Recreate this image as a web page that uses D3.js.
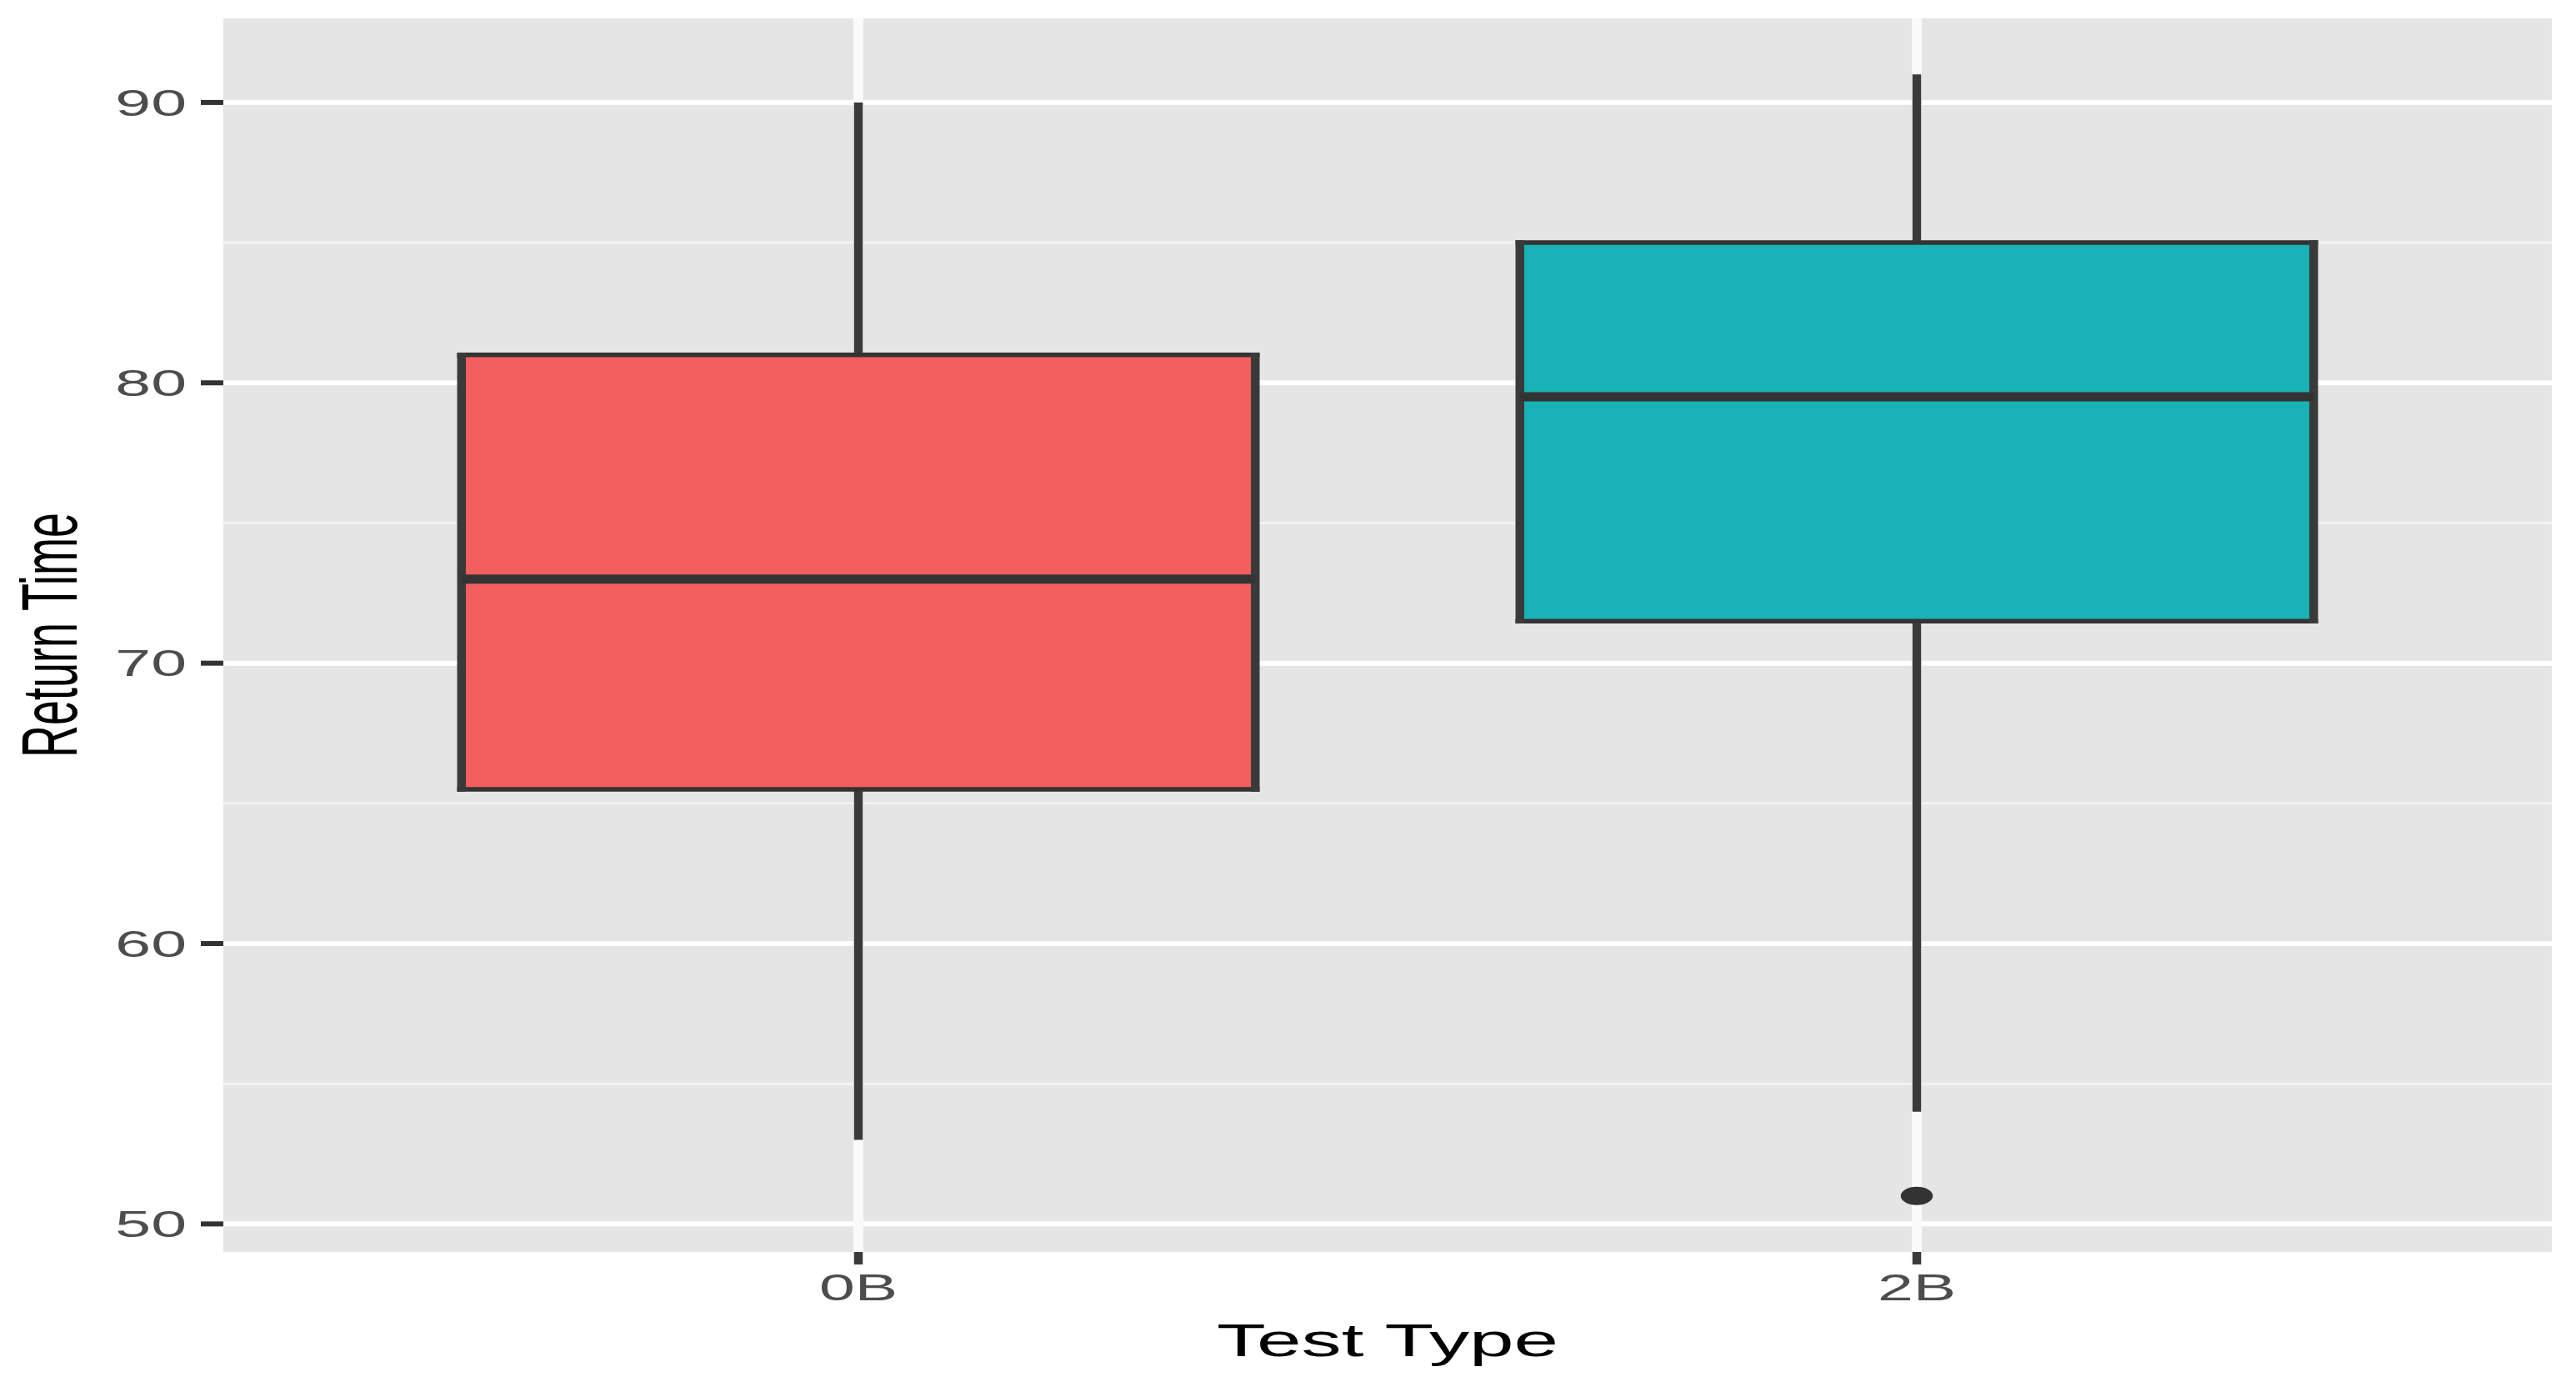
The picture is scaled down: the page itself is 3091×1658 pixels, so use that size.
<!DOCTYPE html>
<html>
<head>
<meta charset="utf-8">
<script src="https://cdn.jsdelivr.net/npm/d3@7"></script>
<style>
  html, body { margin: 0; padding: 0; background: #ffffff; }
  svg { display: block; }
</style>
</head>
<body>
<svg id="chart" width="3091" height="1658"></svg>
<script>
// ---- data ----
const categories = ["0B", "2B"];
const whiskerLow = [53, 54];
const q1 = [65.5, 71.5];
const medians = [73, 79.5];
const q3 = [81, 85];
const whiskerHigh = [90, 91];
const outlierCategory = ["2B"];
const outlierValue = [51];
const fills = ["#F25F5C", "#19B2B6"];
const yTicks = [50, 60, 70, 80, 90];
const yMinor = [55, 65, 75, 85];
const xTitle = "Test Type";
const yTitle = "Return Time";

// ---- layout ----
const W = 3091, H = 1658;
const panel = { left: 268, right: 3062, top: 22, bottom: 1502 };
const SX = 1.75;            // horizontal stretch of the original rendering
const hLine = 5.5;           // horizontal line width
const vLine = 10.5;          // vertical line width (stretched)
const ink = "#333333";
const vInk = "#3A3A3A";

const svg = d3.select("#chart");

const y = d3.scaleLinear().domain([49, 93]).range([panel.bottom, panel.top]);
const x = d3.scalePoint().domain(categories).range([panel.left, panel.right]).padding(0.6);
const step = x.step();
const boxW = step * 0.75;

// panel background
svg.append("rect")
  .attr("x", panel.left).attr("y", panel.top)
  .attr("width", panel.right - panel.left).attr("height", panel.bottom - panel.top)
  .attr("fill", "#E5E5E5");

// grid
const grid = svg.append("g");
grid.selectAll(".minor").data(yMinor).join("line")
  .attr("x1", panel.left).attr("x2", panel.right)
  .attr("y1", d => y(d)).attr("y2", d => y(d))
  .attr("stroke", "#F3F3F3").attr("stroke-width", 3);
grid.selectAll(".major").data(yTicks).join("line")
  .attr("x1", panel.left).attr("x2", panel.right)
  .attr("y1", d => y(d)).attr("y2", d => y(d))
  .attr("stroke", "#FFFFFF").attr("stroke-width", 6);
grid.selectAll(".vmajor").data(categories).join("line")
  .attr("x1", d => x(d)).attr("x2", d => x(d))
  .attr("y1", panel.top).attr("y2", panel.bottom)
  .attr("stroke", "#FAFAFA").attr("stroke-width", 12);

// boxes
const rows = categories.map((c, i) => ({
  c, lo: whiskerLow[i], q1: q1[i], med: medians[i], q3: q3[i], hi: whiskerHigh[i], fill: fills[i]
}));
const g = svg.append("g");
rows.forEach(r => {
  const cx = x(r.c);
  // whiskers
  g.append("line").attr("x1", cx).attr("x2", cx).attr("y1", y(r.hi)).attr("y2", y(r.q3))
    .attr("stroke", vInk).attr("stroke-width", vLine);
  g.append("line").attr("x1", cx).attr("x2", cx).attr("y1", y(r.q1)).attr("y2", y(r.lo))
    .attr("stroke", vInk).attr("stroke-width", vLine);
  // box fill
  const x0 = cx - boxW / 2, x1 = cx + boxW / 2;
  g.append("rect").attr("x", x0).attr("y", y(r.q3))
    .attr("width", boxW).attr("height", y(r.q1) - y(r.q3))
    .attr("fill", r.fill);
  // box borders
  [[x0, y(r.q3), x1, y(r.q3), hLine], [x0, y(r.q1), x1, y(r.q1), hLine]].forEach(s => {
    g.append("line").attr("x1", s[0] - vLine / 2).attr("y1", s[1]).attr("x2", s[2] + vLine / 2).attr("y2", s[3])
      .attr("stroke", ink).attr("stroke-width", s[4]);
  });
  [[x0], [x1]].forEach(s => {
    g.append("line").attr("x1", s[0]).attr("x2", s[0])
      .attr("y1", y(r.q3) - hLine / 2).attr("y2", y(r.q1) + hLine / 2)
      .attr("stroke", vInk).attr("stroke-width", vLine);
  });
  // median
  g.append("line").attr("x1", x0).attr("x2", x1).attr("y1", y(r.med)).attr("y2", y(r.med))
    .attr("stroke", ink).attr("stroke-width", hLine * 2);
});

// outliers
g.selectAll(".out").data(outlierValue).join("ellipse")
  .attr("cx", (d, i) => x(outlierCategory[i])).attr("cy", d => y(d))
  .attr("rx", 11 * SX).attr("ry", 11)
  .attr("fill", ink);

// axes ticks
const axes = svg.append("g");
axes.selectAll(".yt").data(yTicks).join("line")
  .attr("x1", panel.left - 27).attr("x2", panel.left)
  .attr("y1", d => y(d)).attr("y2", d => y(d))
  .attr("stroke", ink).attr("stroke-width", 6);
axes.selectAll(".yl").data(yTicks).join("text")
  .attr("transform", d => `translate(${panel.left - 44},${y(d)}) scale(${SX},1)`)
  .attr("text-anchor", "end").attr("dy", "0.36em")
  .attr("font-family", "Liberation Sans, Arial, sans-serif").attr("font-size", 44)
  .attr("fill", "#4D4D4D")
  .text(d => d);
axes.selectAll(".xt").data(categories).join("line")
  .attr("x1", d => x(d)).attr("x2", d => x(d))
  .attr("y1", panel.bottom).attr("y2", panel.bottom + 15)
  .attr("stroke", vInk).attr("stroke-width", vLine);
axes.selectAll(".xl").data(categories).join("text")
  .attr("transform", d => `translate(${x(d)},1560) scale(${SX},1)`)
  .attr("text-anchor", "middle")
  .attr("font-family", "Liberation Sans, Arial, sans-serif").attr("font-size", 44)
  .attr("fill", "#4D4D4D")
  .text(d => d);

// titles
svg.append("text")
  .attr("transform", `translate(${(panel.left + panel.right) / 2},1627) scale(${SX},1)`)
  .attr("text-anchor", "middle")
  .attr("font-family", "Liberation Sans, Arial, sans-serif").attr("font-size", 55)
  .attr("fill", "#000000")
  .text(xTitle);
svg.append("text")
  .attr("transform", `translate(92,${(panel.top + panel.bottom) / 2}) scale(${SX},1) rotate(-90)`)
  .attr("text-anchor", "middle")
  .attr("font-family", "Liberation Sans, Arial, sans-serif").attr("font-size", 54)
  .attr("fill", "#000000")
  .text(yTitle);
</script>
</body>
</html>
